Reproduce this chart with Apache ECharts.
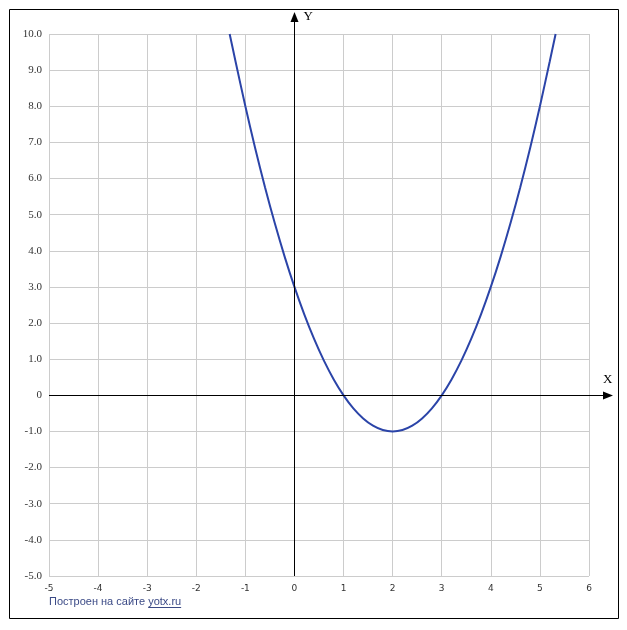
<!DOCTYPE html>
<html><head><meta charset="utf-8">
<script src="https://cdn.jsdelivr.net/npm/echarts@6/dist/echarts.min.js"></script>
<style>html,body{margin:0;padding:0;background:#fff}#c{width:627px;height:630px}</style>
</head><body><div id="c"></div>
<script>
// Curve points: y = f(x)
var curveX = [-1.32,-1.2,-1.0,-0.8,-0.6,-0.4,-0.2,0,0.2,0.4,0.6,0.8,1.0,1.2,1.4,1.6,1.8,2.0,2.2,2.4,2.6,2.8,3.0,3.2,3.4,3.6,3.8,4.0,4.2,4.4,4.6,4.8,5.0,5.2,5.32];
var curveY = [10.0,9.24,8.0,6.84,5.76,4.76,3.84,3.0,2.24,1.56,0.96,0.44,0,-0.36,-0.64,-0.84,-0.96,-1.0,-0.96,-0.84,-0.64,-0.36,0,0.44,0.96,1.56,2.24,3.0,3.84,4.76,5.76,6.84,8.0,9.24,10.0];
var xRange = [-5, 6];
var yRange = [-5, 10];
var footerText = 'Построен на сайте ';
var footerLink = 'yotx.ru';

var chart = echarts.init(document.getElementById('c'), null, {renderer:'canvas'});
var data = curveX.map(function(x,i){return [x, curveY[i]];});
var option = {
  animation:false,
  backgroundColor:'#fff',
  grid:{left:49, top:34, width:540, height:542},
  xAxis:{type:'value', min:xRange[0], max:xRange[1], interval:1,
    axisLine:{show:false}, axisTick:{show:false},
    axisLabel:{margin:8, color:'#333', fontFamily:'DejaVu Sans', fontSize:9},
    splitLine:{show:true, lineStyle:{color:'#cccccc', width:1}}},
  yAxis:{type:'value', min:yRange[0], max:yRange[1], interval:1,
    axisLine:{show:false}, axisTick:{show:false},
    axisLabel:{margin:7, color:'#333', fontFamily:'Liberation Serif', fontSize:11,
      formatter:function(v){return v === 0 ? '0' : v.toFixed(1);}},
    splitLine:{show:true, lineStyle:{color:'#cccccc', width:1}}},
  series:[{type:'line', data:data, showSymbol:false, smooth:0.3, z:5,
    lineStyle:{color:'#2b44a8', width:2}}]
};
chart.setOption(option);

var o = chart.convertToPixel({gridIndex:0}, [0,0]);
var x0 = Math.round(o[0])+0.5, y0 = Math.round(o[1])+0.5;
var pMin = chart.convertToPixel({gridIndex:0}, [xRange[0], yRange[0]]);
var pMax = chart.convertToPixel({gridIndex:0}, [xRange[1], yRange[1]]);
var ctx = document.createElement('canvas').getContext('2d');
ctx.font = '11px "Liberation Sans"';
var w1 = ctx.measureText(footerText).width;
var w2 = ctx.measureText(footerLink).width;
var left = pMin[0];
chart.setOption({graphic:[
  {type:'rect', shape:{x:9.5,y:9.5,width:609,height:609}, style:{fill:null, stroke:'#000', lineWidth:1}, z:1, silent:true},
  {type:'line', shape:{x1:x0, y1:pMin[1], x2:x0, y2:pMax[1]-20}, style:{stroke:'#000', lineWidth:1}, z:10},
  {type:'polygon', shape:{points:[[x0,pMax[1]-22],[x0-4,pMax[1]-12],[x0+4,pMax[1]-12]]}, style:{fill:'#000'}, z:10},
  {type:'line', shape:{x1:pMin[0], y1:y0, x2:pMax[0]+20, y2:y0}, style:{stroke:'#000', lineWidth:1}, z:10},
  {type:'polygon', shape:{points:[[pMax[0]+24,y0],[pMax[0]+14,y0-4],[pMax[0]+14,y0+4]]}, style:{fill:'#000'}, z:10},
  {type:'text', x:x0+9, y:pMax[1]-24, style:{text:'Y', font:'13px "Liberation Serif"', fill:'#000'}, z:10},
  {type:'text', x:pMax[0]+14, y:y0-22, style:{text:'X', font:'13px "Liberation Serif"', fill:'#000'}, z:10},
  {type:'text', x:left, y:596, style:{text:footerText, font:'11px "Liberation Sans"', fill:'#3b4a86'}, z:10},
  {type:'text', x:left+w1, y:596, style:{text:footerLink, font:'11px "Liberation Sans"', fill:'#3b4a86'}, z:10},
  {type:'line', shape:{x1:left+w1, y1:607.5, x2:left+w1+w2, y2:607.5}, style:{stroke:'#3b4a86', lineWidth:1}, z:10}
]});
</script></body></html>
